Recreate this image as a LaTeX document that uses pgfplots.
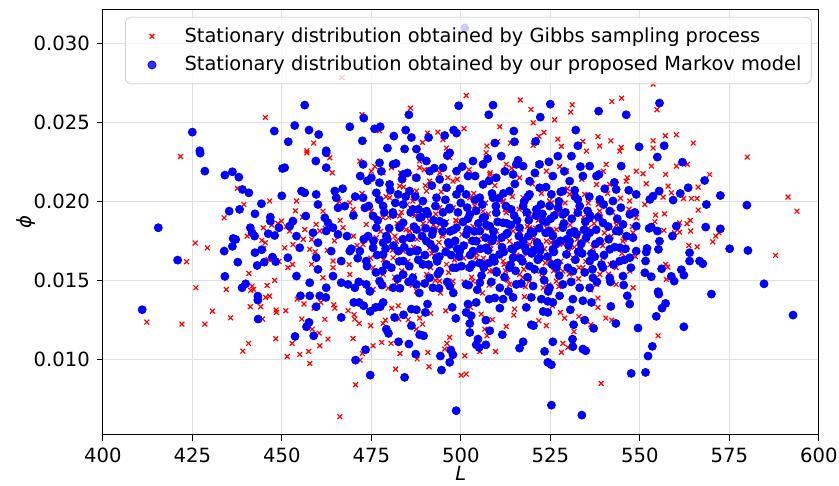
\documentclass[border=0pt]{standalone}
\usepackage{pgfplots}
\pgfplotsset{compat=1.18}
\usepackage{fontspec}
\setmainfont{DejaVu Sans}

\begin{document}
\begin{tikzpicture}
\begin{axis}[
  name=ax, at={(0,0)}, anchor=south west,
  scale only axis, width=358pt, height=212.5pt,
  font=\fontsize{9.8pt}{12pt}\selectfont,
  xmin=400, xmax=600, ymin=0.00523, ymax=0.03213,
  xtick={400,425,450,475,500,525,550,575,600},
  ytick={0.010,0.015,0.020,0.025,0.030},
  scaled y ticks=false,
  yticklabel style={/pgf/number format/.cd, fixed, fixed zerofill, precision=3},
  /pgf/number format/assume math mode=true,
  grid=major, major grid style={gray!25, line width=0.5pt},
  tick align=outside, major tick length=3pt,
  tick style={black, line width=0.5pt},
  xtick pos=left, ytick pos=left,
  axis line style={line width=0.6pt},
  xlabel={\textit{L}}, ylabel={\textit{ϕ}},
  xlabel style={yshift=5pt}, ylabel style={yshift=-8pt},
  legend style={at={(0.031,0.983)}, anchor=north west, draw=gray!35,
    rounded corners=3pt, fill=white, fill opacity=0.8, text opacity=1,
    row sep=1.5pt, inner ysep=3pt,
    font=\fontsize{9.7pt}{12pt}\selectfont},
  legend cell align=left,
  legend image code/.code={\path (0pt,0pt) (24pt,0pt);
    \draw[#1] plot coordinates {(10pt,0pt)};},
]
% Gibbs sampling
\addplot[only marks, mark=x, mark size=1.7pt, red, line width=0.6pt] table {
x y
445.4 0.02531
466.8 0.02784
472.4 0.02548
485.9 0.02590
458.9 0.02369
477.3 0.02447
490.7 0.02432
493.6 0.02438
495.0 0.02390
489.3 0.02373
496.0 0.02337
457.0 0.02320
501.5 0.02670
516.6 0.02641
519.6 0.02582
520.2 0.02497
526.2 0.02516
531.1 0.02611
530.7 0.02565
542.2 0.02632
544.9 0.02653
500.9 0.02459
510.9 0.02472
523.2 0.02436
521.8 0.02411
527.1 0.02394
534.1 0.02379
538.3 0.02409
541.9 0.02383
510.3 0.02379
513.9 0.02369
507.3 0.02350
520.2 0.02354
528.1 0.02348
538.8 0.02350
544.8 0.02341
553.7 0.02742
554.8 0.02580
553.7 0.02383
557.1 0.02415
560.2 0.02421
564.9 0.02369
553.7 0.02337
421.7 0.02284
437.6 0.02082
439.4 0.01980
446.6 0.02002
433.9 0.01896
448.9 0.01860
449.9 0.01875
444.8 0.01833
440.3 0.01780
444.4 0.01753
445.4 0.01738
425.8 0.01736
429.2 0.01706
446.2 0.01632
423.4 0.01618
440.8 0.01544
426.0 0.01453
434.5 0.01442
441.7 0.01464
442.1 0.01442
445.9 0.01468
441.3 0.01436
412.3 0.01236
422.1 0.01223
428.5 0.01223
430.6 0.01305
435.7 0.01263
441.2 0.01333
444.1 0.01333
445.5 0.01392
446.6 0.01400
444.6 0.01255
448.4 0.01312
448.5 0.01297
440.7 0.01101
439.1 0.01052
448.3 0.01130
454.3 0.01381
456.2 0.01350
459.0 0.01324
460.9 0.01360
464.5 0.01345
464.8 0.01324
451.1 0.01308
455.6 0.01255
458.5 0.01191
460.4 0.01166
462.0 0.01253
468.5 0.01308
470.2 0.01282
470.4 0.01255
471.6 0.01227
474.8 0.01213
478.3 0.01227
478.9 0.01248
480.7 0.01324
482.5 0.01339
482.7 0.01255
485.3 0.01251
488.5 0.01261
489.3 0.01223
487.6 0.01191
491.6 0.01291
452.9 0.01101
451.5 0.01018
455.0 0.01031
457.5 0.01050
457.8 0.00974
460.6 0.01086
462.9 0.01128
469.9 0.01132
472.5 0.01037
471.9 0.00995
475.5 0.01086
477.9 0.01107
480.5 0.01101
483.0 0.01037
487.8 0.01002
490.8 0.01044
481.8 0.00938
491.1 0.00953
470.6 0.00839
466.2 0.00637
495.5 0.01065
496.1 0.01101
496.9 0.01139
500.1 0.00900
495.8 0.01308
501.1 0.01023
505.3 0.01050
509.7 0.01050
507.3 0.01149
506.7 0.01191
512.7 0.01208
508.8 0.01251
515.0 0.01318
514.8 0.01280
521.8 0.01244
523.9 0.01213
528.5 0.01101
529.9 0.01075
528.1 0.01044
531.6 0.01175
527.8 0.01297
529.0 0.01261
533.0 0.01270
536.3 0.01219
525.6 0.01339
538.3 0.01388
538.3 0.01329
540.5 0.01261
542.2 0.01248
539.2 0.00848
501.5 0.00907
517.8 0.01396
502.7 0.01329
505.7 0.01286
555.1 0.01149
553.2 0.02223
550.9 0.02175
557.2 0.02170
560.2 0.02223
563.3 0.02234
580.0 0.02280
569.5 0.02170
551.8 0.02111
557.9 0.02096
566.3 0.02090
558.8 0.02054
556.5 0.02027
562.2 0.02018
564.4 0.02018
566.0 0.02018
551.4 0.01980
591.4 0.02027
593.9 0.01938
566.3 0.01945
554.4 0.01913
556.9 0.01921
554.2 0.01871
564.1 0.01879
563.2 0.01858
561.1 0.01864
560.2 0.01850
556.7 0.01816
559.7 0.01801
561.1 0.01805
564.2 0.01812
572.1 0.01801
571.2 0.01780
570.4 0.01744
587.9 0.01658
563.7 0.01721
566.0 0.01712
557.2 0.01601
557.8 0.01584
557.4 0.01506
457.0 0.02307
463.4 0.02276
464.1 0.02181
454.1 0.02002
461.5 0.01938
469.0 0.01991
469.9 0.01949
452.2 0.01812
456.4 0.01822
459.6 0.01854
460.6 0.01812
458.3 0.01759
450.8 0.01706
457.8 0.01696
453.1 0.01727
464.3 0.01622
464.3 0.01580
458.3 0.01601
451.7 0.01580
461.5 0.01516
469.0 0.01537
472.2 0.01485
467.1 0.01833
475.0 0.02191
478.3 0.02181
480.6 0.02213
488.5 0.02255
488.5 0.02213
487.1 0.02149
491.3 0.02128
482.9 0.02096
480.1 0.02023
475.0 0.01938
478.3 0.01896
482.9 0.01907
486.6 0.02002
490.4 0.02065
494.1 0.02181
496.9 0.02276
497.8 0.02128
498.8 0.01875
494.1 0.01959
491.3 0.01875
472.7 0.01727
476.4 0.01770
482.0 0.01748
483.9 0.01685
481.1 0.01643
475.5 0.01580
478.3 0.01537
485.7 0.01580
489.4 0.01664
491.3 0.01706
495.0 0.01791
498.8 0.01748
496.0 0.01601
490.4 0.01537
494.1 0.01495
497.8 0.01495
482.0 0.01485
475.5 0.01443
487.6 0.01432
485.7 0.01812
473.6 0.01854
480.1 0.01812
489.4 0.01770
493.2 0.01833
487.6 0.02065
471.8 0.02255
507.1 0.02307
512.7 0.02234
521.5 0.02234
529.5 0.02191
535.1 0.02318
540.6 0.02234
544.4 0.02318
549.0 0.02191
503.4 0.02170
508.1 0.02170
516.4 0.02149
523.9 0.02191
537.9 0.02107
541.6 0.02107
546.2 0.02128
502.5 0.02023
511.8 0.02002
517.4 0.02023
524.8 0.02002
530.4 0.02044
534.6 0.02044
538.8 0.01938
547.2 0.02002
549.0 0.01896
506.2 0.01938
512.7 0.01928
519.2 0.01917
526.7 0.01938
531.3 0.01896
536.0 0.01928
543.4 0.01875
548.1 0.01801
503.4 0.01843
509.9 0.01812
514.6 0.01812
519.2 0.01833
526.7 0.01822
530.4 0.01791
534.1 0.01812
541.6 0.01770
545.3 0.01748
502.5 0.01748
508.1 0.01727
513.6 0.01748
519.2 0.01727
523.9 0.01748
527.6 0.01727
533.2 0.01748
536.9 0.01706
539.7 0.01643
543.4 0.01580
547.2 0.01558
504.3 0.01643
511.8 0.01622
517.4 0.01643
524.8 0.01622
531.3 0.01643
534.1 0.01580
538.8 0.01537
508.1 0.01558
516.4 0.01537
521.1 0.01558
528.5 0.01558
503.4 0.01495
509.0 0.01495
513.6 0.01474
519.2 0.01495
526.7 0.01495
531.3 0.01495
537.9 0.01474
543.4 0.01474
548.1 0.01453
523.0 0.01453
477.6 0.0181
480.9 0.0169
483.4 0.0193
485.2 0.0162
487.8 0.0176
489.5 0.0186
491.6 0.0158
493.9 0.0174
496.0 0.0187
498.2 0.0163
500.3 0.0179
502.7 0.0191
504.5 0.0167
506.8 0.0183
508.9 0.0156
510.6 0.0174
512.4 0.0195
515.0 0.0164
516.8 0.0180
519.1 0.0159
521.6 0.0188
523.4 0.0170
525.9 0.0156
528.0 0.0184
530.1 0.0168
532.5 0.0176
534.9 0.0162
537.2 0.0186
539.6 0.0172
542.4 0.0193
545.0 0.0167
547.9 0.0184
479.1 0.0203
484.0 0.0209
488.9 0.0199
494.5 0.0206
499.0 0.0214
503.6 0.0205
509.5 0.0210
514.4 0.0203
520.0 0.0211
525.3 0.0199
529.8 0.0208
535.6 0.0199
541.0 0.0205
481.5 0.0152
486.4 0.0147
492.9 0.0150
497.6 0.0146
503.0 0.0152
507.9 0.0147
513.1 0.0150
518.0 0.0146
522.7 0.0152
527.4 0.0146
532.9 0.0151
471.0 0.0172
468.8 0.0160
466.3 0.0188
473.5 0.0196
462.7 0.0169
455.8 0.0190
453.0 0.0160
448.0 0.0150
447.2 0.0185
445.0 0.0170
470.0 0.0178
472.4 0.0205
474.8 0.0164
476.9 0.0212
479.8 0.0190
481.6 0.0178
483.5 0.0156
485.0 0.0198
486.8 0.0171
488.6 0.0181
490.1 0.0210
491.9 0.0167
493.0 0.0192
494.8 0.0178
496.6 0.0155
497.9 0.0196
499.6 0.0169
501.0 0.0186
502.0 0.0158
503.9 0.0197
505.0 0.0176
506.3 0.0164
507.7 0.0192
509.3 0.0181
510.8 0.0167
511.9 0.0200
513.7 0.0185
514.9 0.0172
516.3 0.0195
517.6 0.0157
518.6 0.0184
520.3 0.0176
521.3 0.0165
522.5 0.0205
524.0 0.0183
525.2 0.0174
526.5 0.0192
527.9 0.0162
529.1 0.0199
530.5 0.0185
531.7 0.0171
533.0 0.0158
534.2 0.0190
535.6 0.0183
537.0 0.0167
538.4 0.0198
540.1 0.0180
541.7 0.0160
543.5 0.0185
545.6 0.0176
547.0 0.0195
548.8 0.0165
478.4 0.0163
482.2 0.0186
484.7 0.0182
487.2 0.0191
489.1 0.0160
492.3 0.0185
495.4 0.0170
498.6 0.0188
500.8 0.0164
504.1 0.0181
506.9 0.0199
508.4 0.0170
512.1 0.0160
515.6 0.0166
518.1 0.0192
520.9 0.0183
523.6 0.0161
526.1 0.0181
528.6 0.0173
532.2 0.0194
535.3 0.0175
539.0 0.0190
542.0 0.0178
544.6 0.0202
466.0 0.0200
464.7 0.0175
462.1 0.0183
459.3 0.0168
456.0 0.0176
453.8 0.0194
451.3 0.0184
449.2 0.0162
476.0 0.0222
483.2 0.0218
489.8 0.0220
496.4 0.0215
502.3 0.0220
508.2 0.0218
514.2 0.0221
521.0 0.0217
527.6 0.0222
533.8 0.0214
539.8 0.0219
546.5 0.0215
479.7 0.0145
486.9 0.0153
494.3 0.0142
500.9 0.0149
506.0 0.0142
512.5 0.0156
517.3 0.0152
524.6 0.0147
530.3 0.0154
536.2 0.0144
541.3 0.0154
};
% proposed Markov model
\addplot[only marks, mark=*, mark size=2pt, blue, mark options={draw=blue, fill=blue}] table {
x y
425.0 0.02438
447.9 0.02445
427.1 0.02320
501.1 0.03097
456.4 0.02609
472.9 0.02527
485.5 0.02548
499.4 0.02605
453.6 0.02480
457.6 0.02451
460.3 0.02423
451.8 0.02377
469.0 0.02472
472.5 0.02383
475.9 0.02459
477.5 0.02472
481.3 0.02413
484.6 0.02451
486.2 0.02404
495.5 0.02417
491.0 0.02404
498.0 0.02451
498.8 0.02432
479.5 0.02337
484.3 0.02331
487.6 0.02331
462.4 0.02320
509.0 0.02609
507.8 0.02548
522.2 0.02533
525.0 0.02615
538.5 0.02571
546.2 0.02548
514.8 0.02445
532.1 0.02451
509.5 0.02369
515.0 0.02377
520.9 0.02379
532.7 0.02352
549.8 0.02345
555.5 0.02622
556.8 0.02352
427.2 0.02305
428.5 0.02191
434.1 0.02166
436.2 0.02187
438.0 0.02153
439.0 0.02075
440.8 0.02054
450.0 0.02035
450.2 0.02208
444.3 0.01985
435.3 0.01938
438.2 0.01949
442.5 0.01921
446.8 0.01900
446.8 0.01875
449.2 0.01833
415.5 0.01833
441.2 0.01833
441.7 0.01801
442.4 0.01780
446.2 0.01795
448.0 0.01784
436.4 0.01765
437.1 0.01759
436.2 0.01715
444.4 0.01694
442.5 0.01675
433.9 0.01685
447.4 0.01647
448.3 0.01618
445.1 0.01615
443.1 0.01594
437.7 0.01615
420.9 0.01628
434.1 0.01525
438.9 0.01453
439.9 0.01478
411.0 0.01314
443.3 0.01375
443.3 0.01400
443.4 0.01255
455.2 0.01402
457.8 0.01402
460.6 0.01402
462.3 0.01392
459.6 0.01333
457.6 0.01234
456.9 0.01206
458.9 0.01149
466.6 0.01265
471.6 0.01360
472.9 0.01339
474.7 0.01303
476.2 0.01329
477.5 0.01333
478.3 0.01360
479.2 0.01191
479.8 0.01164
481.5 0.01265
484.0 0.01282
486.2 0.01318
487.6 0.01314
486.2 0.01213
488.5 0.01156
489.6 0.01149
490.1 0.01297
490.7 0.01350
470.1 0.01360
453.7 0.01145
473.4 0.01061
470.6 0.00995
482.6 0.01111
485.5 0.01097
487.4 0.01033
474.7 0.00900
484.3 0.00886
498.7 0.00675
494.6 0.00932
494.3 0.01021
496.9 0.00981
497.8 0.01029
497.2 0.01059
498.6 0.01259
497.6 0.01329
502.5 0.01170
504.8 0.01128
504.3 0.01092
505.1 0.01075
507.0 0.01092
508.1 0.01181
511.6 0.01156
517.4 0.01111
516.4 0.01071
507.0 0.01248
510.9 0.01324
518.3 0.01329
519.7 0.01219
520.3 0.01213
523.0 0.01303
524.3 0.01297
525.7 0.01111
523.4 0.01050
524.3 0.00981
525.3 0.00966
525.3 0.00710
533.8 0.00647
531.2 0.01128
531.3 0.01080
531.5 0.01219
530.6 0.01314
534.6 0.01248
537.1 0.01196
534.1 0.01065
534.9 0.01054
525.7 0.01360
536.5 0.01360
541.9 0.01335
543.3 0.01227
547.2 0.01350
546.5 0.01402
549.5 0.01198
547.6 0.00911
511.8 0.01381
514.6 0.01392
519.7 0.01392
522.5 0.01381
524.3 0.01367
527.6 0.01402
531.3 0.01381
534.1 0.01371
502.0 0.01350
504.3 0.01360
501.5 0.01297
502.9 0.01276
502.5 0.01227
507.9 0.01381
509.5 0.01388
555.3 0.01413
570.0 0.01413
557.2 0.01354
556.2 0.01324
554.6 0.01272
562.3 0.01206
553.5 0.01082
552.3 0.01021
551.6 0.00917
592.8 0.01280
554.9 0.02280
561.9 0.02248
568.1 0.02132
563.5 0.02086
555.4 0.02065
561.3 0.02050
553.7 0.02033
552.8 0.02012
559.3 0.02008
572.5 0.02037
568.6 0.01980
579.9 0.01976
560.2 0.01843
553.2 0.01837
552.6 0.01829
554.9 0.01812
568.4 0.01837
572.5 0.01826
559.1 0.01780
555.5 0.01748
575.1 0.01700
580.2 0.01689
563.9 0.01675
555.2 0.01696
552.0 0.01702
551.8 0.01679
551.6 0.01622
563.9 0.01622
566.7 0.01622
567.6 0.01605
556.1 0.01573
561.6 0.01567
562.3 0.01533
551.4 0.01548
553.2 0.01523
558.8 0.01525
559.6 0.01495
584.7 0.01478
555.1 0.01428
459.5 0.02255
462.4 0.02213
462.4 0.02307
450.8 0.02213
455.5 0.02065
456.4 0.02054
459.6 0.02044
460.1 0.01980
464.8 0.02065
465.2 0.02023
465.7 0.01959
467.6 0.01970
456.7 0.01907
453.1 0.01875
452.2 0.01843
462.0 0.01896
462.9 0.01864
464.3 0.01833
465.7 0.01791
462.4 0.01812
454.1 0.01780
458.7 0.01801
460.1 0.01738
455.0 0.01706
451.7 0.01643
459.6 0.01643
463.8 0.01685
466.6 0.01622
469.0 0.01685
454.1 0.01527
460.1 0.01569
457.8 0.01485
464.3 0.01527
466.6 0.01485
468.5 0.01474
470.4 0.01453
462.4 0.01453
472.7 0.02234
471.9 0.02160
475.0 0.02149
477.3 0.02118
480.1 0.02107
473.2 0.01959
475.5 0.01907
478.3 0.01970
482.5 0.02044
485.7 0.02065
481.1 0.01917
483.9 0.01864
486.6 0.01949
488.5 0.01896
490.4 0.01938
494.1 0.01875
496.9 0.01959
498.8 0.01833
496.0 0.02086
491.3 0.02191
495.0 0.02213
490.4 0.02255
496.9 0.02307
481.1 0.02234
477.3 0.02244
474.1 0.01780
475.5 0.01706
478.3 0.01738
473.6 0.01622
479.2 0.01601
482.5 0.01685
485.7 0.01770
487.6 0.01685
490.4 0.01748
493.2 0.01643
496.9 0.01727
499.7 0.01685
489.4 0.01601
494.1 0.01558
497.8 0.01580
483.9 0.01537
477.3 0.01495
473.6 0.01474
481.1 0.01453
487.6 0.01474
492.2 0.01453
496.9 0.01464
486.6 0.01516
491.3 0.01516
482.9 0.01833
487.6 0.01822
492.2 0.01812
476.4 0.01833
479.2 0.01780
493.2 0.02023
489.4 0.02002
483.9 0.01980
498.8 0.02044
498.8 0.02191
487.6 0.02149
483.9 0.02170
494.1 0.02139
472.7 0.02023
476.4 0.02054
471.8 0.01685
478.3 0.01664
483.9 0.01622
511.3 0.02286
503.4 0.02255
506.2 0.02234
515.5 0.02234
517.4 0.02223
522.0 0.02234
527.1 0.02286
530.9 0.02286
536.0 0.02223
544.8 0.02223
502.0 0.02160
509.9 0.02149
514.6 0.02170
525.7 0.02160
530.4 0.02128
534.1 0.02160
537.9 0.02160
543.4 0.02075
549.0 0.02044
501.5 0.02044
505.3 0.02023
509.0 0.02023
513.6 0.02065
519.2 0.02044
522.0 0.02086
525.3 0.02044
528.5 0.02065
532.7 0.02012
538.8 0.02012
541.6 0.01938
547.2 0.01917
549.0 0.01843
502.5 0.01917
506.2 0.01896
509.9 0.01928
514.1 0.01949
517.4 0.01970
521.1 0.01949
524.8 0.01970
528.5 0.01917
532.7 0.01928
536.0 0.01896
539.7 0.01864
543.4 0.01812
548.1 0.01770
501.5 0.01791
505.3 0.01812
509.0 0.01770
512.7 0.01791
516.4 0.01833
520.2 0.01801
524.8 0.01812
528.5 0.01833
532.3 0.01791
536.0 0.01801
538.8 0.01748
541.6 0.01696
544.4 0.01706
547.2 0.01643
503.4 0.01685
507.1 0.01706
510.8 0.01664
514.6 0.01696
518.3 0.01685
522.0 0.01717
525.7 0.01696
529.5 0.01664
533.2 0.01685
536.0 0.01622
539.7 0.01580
544.4 0.01622
549.0 0.01685
502.5 0.01580
506.2 0.01601
509.9 0.01558
513.6 0.01580
519.2 0.01590
523.0 0.01558
526.7 0.01580
531.3 0.01558
536.9 0.01516
541.6 0.01516
545.3 0.01527
501.5 0.01474
505.3 0.01485
510.9 0.01453
515.5 0.01474
520.2 0.01464
524.8 0.01453
528.5 0.01474
533.2 0.01453
536.0 0.01453
506.2 0.02107
519.2 0.02128
511.8 0.01864
523.0 0.01875
517.4 0.01748
530.4 0.01748
508.1 0.01843
504.3 0.01748
514.6 0.01643
522.0 0.01643
509.0 0.01643
542.5 0.02002
545.3 0.01854
476.8 0.0188
479.5 0.0176
481.7 0.0199
484.2 0.0171
486.9 0.0184
488.1 0.0163
490.8 0.0192
492.7 0.0170
494.9 0.0181
497.3 0.0166
499.2 0.0193
500.8 0.0172
503.1 0.0160
504.9 0.0186
507.6 0.0169
509.8 0.0197
511.4 0.0177
513.9 0.0160
515.7 0.0188
517.9 0.0171
520.6 0.0157
521.9 0.0183
524.2 0.0165
526.1 0.0191
527.8 0.0175
529.9 0.0158
531.7 0.0181
533.9 0.0167
535.4 0.0194
537.6 0.0173
539.3 0.0160
541.2 0.0184
478.1 0.0156
482.3 0.0151
485.6 0.0159
489.9 0.0148
493.6 0.0154
496.2 0.0149
498.7 0.0158
502.2 0.0147
505.8 0.0153
508.5 0.0149
512.2 0.0152
516.9 0.0148
519.8 0.0167
523.3 0.0150
527.0 0.0161
530.8 0.0149
534.6 0.0155
538.0 0.0149
480.3 0.0207
483.6 0.0214
487.3 0.0203
491.9 0.0210
495.7 0.0201
499.8 0.0208
503.9 0.0201
507.9 0.0213
511.9 0.0205
515.1 0.0211
518.7 0.0203
523.8 0.0209
527.4 0.0200
531.8 0.0207
535.9 0.0203
540.2 0.0208
544.7 0.0196
546.3 0.0178
545.7 0.0163
543.0 0.0171
474.3 0.0197
472.9 0.0176
471.2 0.0164
470.0 0.0191
468.2 0.0178
467.0 0.0208
473.8 0.0159
476.6 0.0166
501.9 0.0182
506.9 0.0177
512.9 0.0186
518.4 0.0193
525.7 0.0178
492.4 0.0188
486.0 0.0193
496.5 0.0174
489.2 0.0178
483.1 0.0184
509.4 0.0162
514.2 0.0170
521.3 0.0174
498.0 0.0182
470.5 0.0203
473.9 0.0213
477.8 0.0219
481.9 0.0224
485.1 0.0218
488.7 0.0228
492.6 0.0221
496.2 0.0229
500.4 0.0222
504.0 0.0216
507.5 0.0227
512.3 0.0219
516.0 0.0226
520.7 0.0218
524.6 0.0225
528.9 0.0219
533.4 0.0222
538.6 0.0217
542.9 0.0212
546.9 0.0207
469.4 0.0170
471.5 0.0149
474.6 0.0143
478.0 0.0147
480.6 0.0158
483.0 0.0145
485.4 0.0149
488.4 0.0142
491.0 0.0160
493.9 0.0145
495.8 0.0168
497.9 0.0142
500.2 0.0159
502.6 0.0166
504.6 0.0144
506.4 0.0158
508.8 0.0175
510.3 0.0187
512.0 0.0168
513.3 0.0143
515.3 0.0156
516.2 0.0178
518.6 0.0152
519.6 0.0181
521.5 0.0163
522.8 0.0192
524.4 0.0143
526.0 0.0168
527.5 0.0153
528.8 0.0186
530.1 0.0172
532.0 0.0163
533.2 0.0197
535.0 0.0177
536.8 0.0157
538.4 0.0190
540.0 0.0166
541.8 0.0149
543.7 0.0189
545.5 0.0147
547.5 0.0158
548.6 0.0193
478.6 0.0193
480.0 0.0183
481.2 0.0172
482.8 0.0162
484.6 0.0203
486.2 0.0177
487.9 0.0169
489.0 0.0190
490.2 0.0183
491.5 0.0173
492.9 0.0197
494.0 0.0165
495.3 0.0186
496.8 0.0195
498.4 0.0175
499.5 0.0165
500.6 0.0187
501.8 0.0196
503.3 0.0175
504.3 0.0194
505.5 0.0170
506.7 0.0190
507.9 0.0161
509.1 0.0181
510.6 0.0202
511.5 0.0171
513.1 0.0180
514.9 0.0191
516.6 0.0164
517.7 0.0200
519.0 0.0188
520.4 0.0169
522.4 0.0198
523.7 0.0180
525.1 0.0189
526.6 0.0173
527.9 0.0206
529.2 0.0193
530.6 0.0180
531.9 0.0203
533.6 0.0173
534.8 0.0187
536.5 0.0167
537.8 0.0182
539.9 0.0198
541.3 0.0176
542.6 0.0160
544.2 0.0181
546.0 0.0170
475.6 0.0175
476.3 0.0155
477.2 0.0201
479.0 0.0170
481.0 0.0193
483.8 0.0176
485.8 0.0168
488.2 0.0195
490.0 0.0166
492.0 0.0179
493.4 0.0162
495.0 0.0193
497.0 0.0181
499.0 0.0170
500.0 0.0199
502.0 0.0189
503.8 0.0181
505.2 0.0161
506.0 0.0198
507.2 0.0185
508.7 0.0205
510.0 0.0155
512.6 0.0197
514.0 0.0185
515.8 0.0172
517.2 0.0162
518.9 0.0178
521.0 0.0191
522.2 0.0169
523.9 0.0187
525.5 0.0160
527.2 0.0196
529.6 0.0176
531.0 0.0189
532.8 0.0168
534.4 0.0182
536.1 0.0191
537.4 0.0165
};
\legend{Stationary distribution obtained by Gibbs sampling process,
        Stationary distribution obtained by our proposed Markov model}
\end{axis}
\pgfresetboundingbox
\path (-51.4pt,-25.65pt) rectangle (368.1pt,217.35pt);
\end{tikzpicture}
\end{document}
